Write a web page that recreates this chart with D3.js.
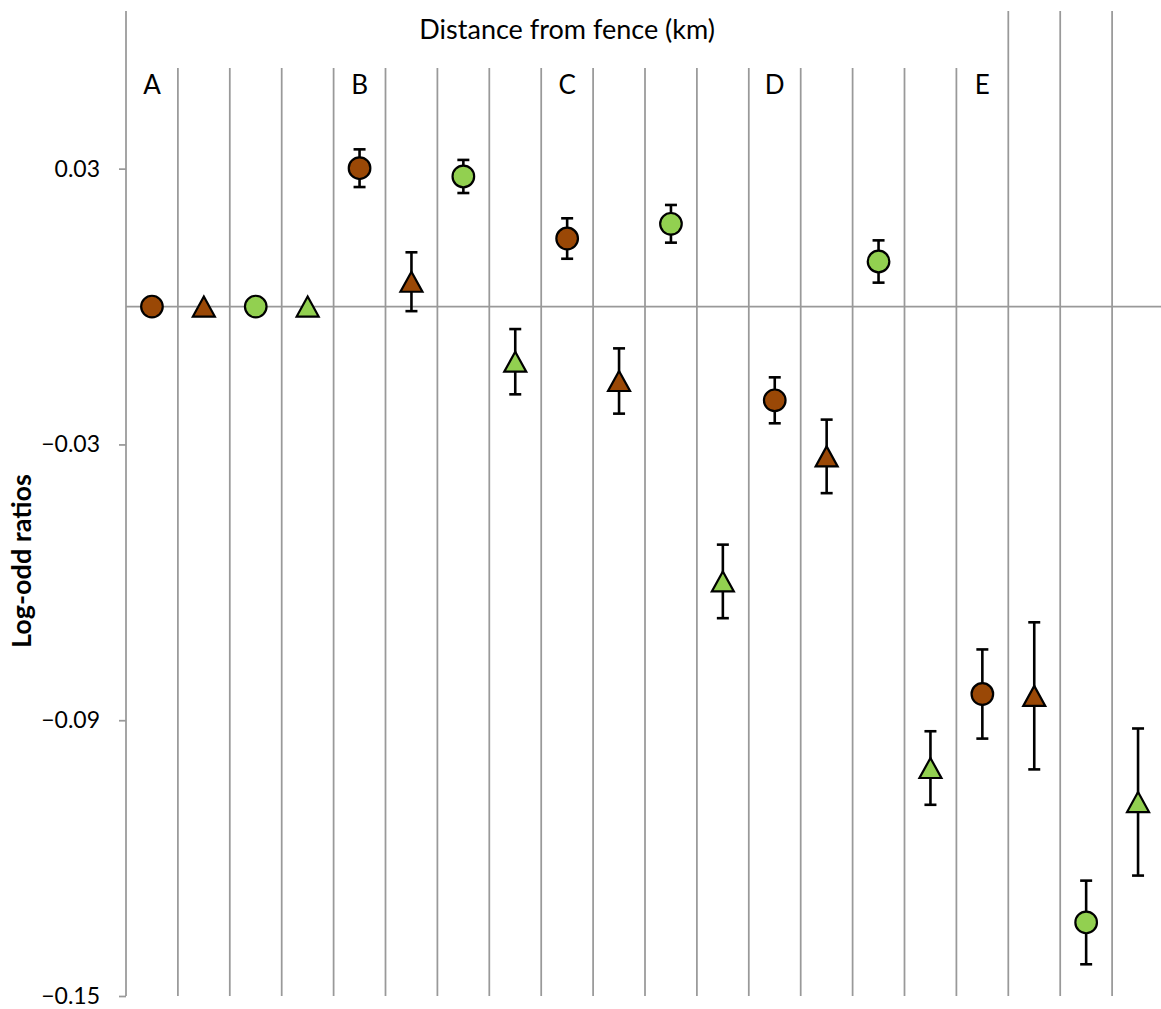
<!DOCTYPE html>
<html lang="en">
<head>
<meta charset="UTF-8">
<title>Log-odd ratios by distance from fence</title>
<style>
    body { margin:0; background:#fff; }
    svg { display:block; font-family: Lato, "Open Sans", sans-serif; }
</style>
</head>
<body>
<script src="https://cdn.jsdelivr.net/npm/d3@7/dist/d3.min.js"></script>
<script>
// distance classes
var groups = ["A", "B", "C", "D", "E"];
// four series, one value per distance class
var brownCircle      = [0, 0.0301, 0.0148, -0.0204, -0.0843];
var brownCircleErr   = [0, 0.0041, 0.0044, 0.0050, 0.0097];
var brownTriangle    = [0, 0.0054, -0.0162, -0.0326, -0.0847];
var brownTriangleErr = [0, 0.0064, 0.0071, 0.0080, 0.0160];
var greenCircle      = [0, 0.0283, 0.0180, 0.0098, -0.1340];
var greenCircleErr   = [0, 0.0036, 0.0041, 0.0046, 0.0091];
var greenTriangle    = [0, -0.0120, -0.0598, -0.1004, -0.1078];
var greenTriangleErr = [0, 0.0071, 0.0080, 0.0080, 0.0160];
var yTicks = [0.03, -0.03, -0.09, -0.15];

var series = [
    {vals: brownCircle, errs: brownCircleErr, fill: "#9a4806", shape: "circle"},
    {vals: brownTriangle, errs: brownTriangleErr, fill: "#9a4806", shape: "triangle"},
    {vals: greenCircle, errs: greenCircleErr, fill: "#92d050", shape: "circle"},
    {vals: greenTriangle, errs: greenTriangleErr, fill: "#92d050", shape: "triangle"}
];

var points = [];
groups.forEach(function (g, gi) {
    series.forEach(function (s, si) {
        points.push({idx: gi * 4 + si, v: s.vals[gi], e: s.errs[gi], fill: s.fill, shape: s.shape});
    });
});

var w = 1161, h = 1009;
var mLeft = 126, mTop = 11, mBottom = 996;
var nCat = groups.length * series.length;
var xScale = d3.scaleBand().domain(d3.range(nCat)).range([mLeft, mLeft + nCat * 51.9]);
var yScale = d3.scaleLinear().domain([-0.15, 0.0643]).range([mBottom, mTop]);
var bw = xScale.bandwidth();
var grey = "#999999";

var svg = d3.select("body").append("svg").attr("width", w).attr("height", h);

// vertical separators between categories
svg.selectAll("line.sep")
    .data(d3.range(1, nCat))
    .enter().append("line")
    .attr("class", "sep")
    .attr("x1", function (d) { return xScale(d); })
    .attr("x2", function (d) { return xScale(d); })
    .attr("y1", function (d) { return d >= 17 ? mTop : 68; })
    .attr("y2", mBottom)
    .attr("stroke", grey)
    .attr("stroke-width", 1.75);

// zero line
svg.append("line")
    .attr("x1", mLeft).attr("x2", w)
    .attr("y1", yScale(0)).attr("y2", yScale(0))
    .attr("stroke", grey).attr("stroke-width", 1.75);

// y axis
var yAxis = d3.axisLeft(yScale).tickValues(yTicks).tickSize(7).tickPadding(19)
    .tickFormat(d3.format(".2f"));
var ax = svg.append("g").attr("transform", "translate(" + mLeft + ",0)").call(yAxis);
ax.select(".domain").attr("d", "M0," + mTop + "V" + mBottom).attr("stroke", grey).attr("stroke-width", 1.75);
ax.selectAll(".tick line").attr("stroke", grey).attr("stroke-width", 1.75);
ax.selectAll(".tick text").attr("font-size", "23px").attr("fill", "#000")
    .attr("font-family", "Lato, 'Open Sans', sans-serif");

// header
svg.append("text")
    .attr("x", (xScale(0) + xScale(17)) / 2)
    .attr("y", 39)
    .attr("text-anchor", "middle")
    .attr("font-size", "27px")
    .text("Distance from fence (km)");

svg.selectAll("text.grp")
    .data(groups)
    .enter().append("text")
    .attr("class", "grp")
    .attr("x", function (d, i) { return xScale(i * 4) + bw / 2; })
    .attr("y", 94)
    .attr("text-anchor", "middle")
    .attr("font-size", "26px")
    .text(function (d) { return d; });

// y title
svg.append("text")
    .attr("transform", "translate(31,561) rotate(-90)")
    .attr("text-anchor", "middle")
    .attr("font-size", "27px")
    .attr("font-weight", "bold")
    .text("Log-odd ratios");

// error bars
var eb = svg.selectAll("g.err")
    .data(points.filter(function (d) { return d.e > 0; }))
    .enter().append("g")
    .attr("class", "err")
    .attr("stroke", "#000")
    .attr("stroke-width", 2.6);
eb.append("line")
    .attr("x1", function (d) { return xScale(d.idx) + bw / 2; })
    .attr("x2", function (d) { return xScale(d.idx) + bw / 2; })
    .attr("y1", function (d) { return yScale(d.v + d.e); })
    .attr("y2", function (d) { return yScale(d.v - d.e); });
eb.append("line")
    .attr("x1", function (d) { return xScale(d.idx) + bw / 2 - 6; })
    .attr("x2", function (d) { return xScale(d.idx) + bw / 2 + 6; })
    .attr("y1", function (d) { return yScale(d.v + d.e); })
    .attr("y2", function (d) { return yScale(d.v + d.e); });
eb.append("line")
    .attr("x1", function (d) { return xScale(d.idx) + bw / 2 - 6; })
    .attr("x2", function (d) { return xScale(d.idx) + bw / 2 + 6; })
    .attr("y1", function (d) { return yScale(d.v - d.e); })
    .attr("y2", function (d) { return yScale(d.v - d.e); });

// markers
var tri = "M0,-10L11,10L-11,10Z";
svg.selectAll("path.mk")
    .data(points)
    .enter().append("path")
    .attr("class", "mk")
    .attr("transform", function (d) {
        return "translate(" + (xScale(d.idx) + bw / 2) + "," + yScale(d.v) + ")";
    })
    .attr("d", function (d) {
        return d.shape === "circle" ? d3.symbol().type(d3.symbolCircle).size(Math.PI * 10.8 * 10.8)() : tri;
    })
    .attr("fill", function (d) { return d.fill; })
    .attr("stroke", "#000")
    .attr("stroke-width", 2.2)
    .attr("stroke-linejoin", "miter");
</script>
</body>
</html>
